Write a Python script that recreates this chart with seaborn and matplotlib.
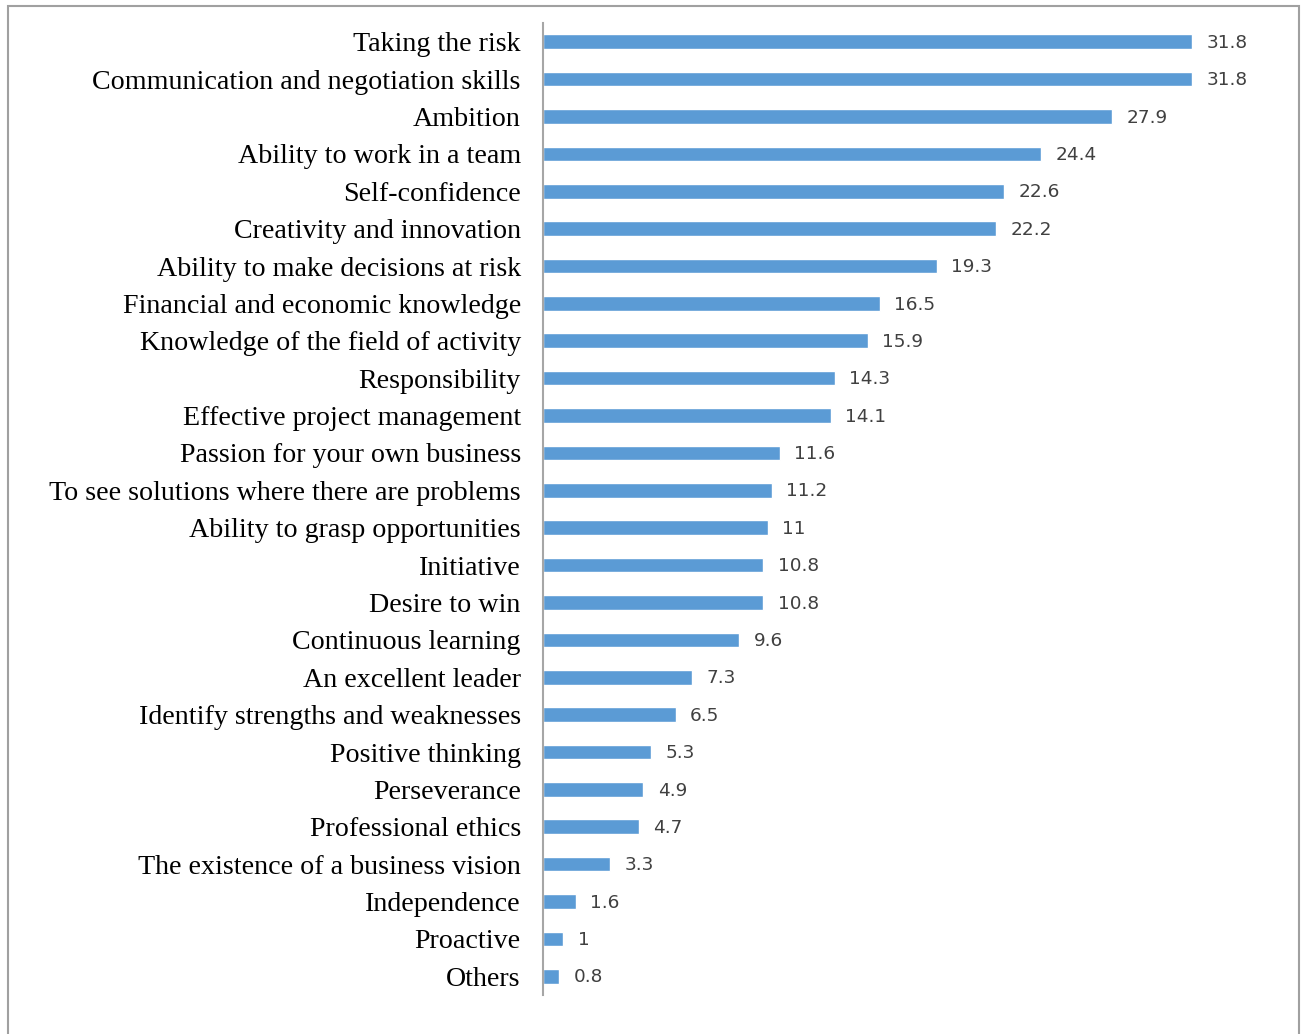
import matplotlib
matplotlib.use("Agg")
import matplotlib.pyplot as plt
import matplotlib.patches as mpatches
import seaborn as sns
import pandas as pd

# Entrepreneurial competencies and the share of respondents citing them (%)
skills = [
    "Taking the risk",
    "Communication and negotiation skills",
    "Ambition",
    "Ability to work in a team",
    "Self-confidence",
    "Creativity and innovation",
    "Ability to make decisions at risk",
    "Financial and economic knowledge",
    "Knowledge of the field of activity",
    "Responsibility",
    "Effective project management",
    "Passion for your own business",
    "To see solutions where there are problems",
    "Ability to grasp opportunities",
    "Initiative",
    "Desire to win",
    "Continuous learning",
    "An excellent leader",
    "Identify strengths and weaknesses",
    "Positive thinking",
    "Perseverance",
    "Professional ethics",
    "The existence of a business vision",
    "Independence",
    "Proactive",
    "Others",
]
shares = [31.8, 31.8, 27.9, 24.4, 22.6, 22.2, 19.3, 16.5, 15.9, 14.3, 14.1,
          11.6, 11.2, 11, 10.8, 10.8, 9.6, 7.3, 6.5, 5.3, 4.9, 4.7, 3.3,
          1.6, 1, 0.8]
value_labels = ["31.8", "31.8", "27.9", "24.4", "22.6", "22.2", "19.3", "16.5",
                "15.9", "14.3", "14.1", "11.6", "11.2", "11", "10.8", "10.8",
                "9.6", "7.3", "6.5", "5.3", "4.9", "4.7", "3.3", "1.6", "1",
                "0.8"]

df = pd.DataFrame({"skill": skills, "share": shares})

sns.set_theme(style="white")
plt.rcParams["font.family"] = ["DejaVu Sans"]

W, H = 1303, 1034
fig = plt.figure(figsize=(W / 100, H / 100), dpi=100)
ax = fig.add_axes([543 / W, 1 - 995 / H, (1290 - 543) / W, (995 - 23) / H])

sns.barplot(data=df, x="share", y="skill", orient="h", color="#5B9BD5",
            saturation=1, width=0.39, ax=ax)

ax.set_xlim(0, (1290 - 543) / 20.41)
ax.set_ylim(25.5, -0.5)
ax.set_xlabel("")
ax.set_ylabel("")
ax.set_xticks([])
ax.tick_params(axis="y", length=0, pad=16)
for lbl in ax.get_yticklabels():
    lbl.set_fontfamily("Liberation Serif")
    lbl.set_fontsize(20.2)
    lbl.set_color("black")

for side in ["top", "right", "bottom"]:
    ax.spines[side].set_visible(False)
ax.spines["left"].set_color("#A6A6A6")
ax.spines["left"].set_linewidth(1.5)

for i, (v, t) in enumerate(zip(shares, value_labels)):
    ax.annotate(t, xy=(v, i + 0.03), xytext=(10.5, 0), textcoords="offset points",
                ha="left", va="center", fontsize=13.3, color="#404040")

# Outer frame around the chart
frame = mpatches.Rectangle((8 / W, -0.02), (1299 - 8) / W, 1 - 6 / H + 0.02,
                           transform=fig.transFigure, fill=False,
                           edgecolor="#A0A0A0", linewidth=1.5, clip_on=False)
fig.patches.append(frame)

fig.savefig("out.png", dpi=100)
